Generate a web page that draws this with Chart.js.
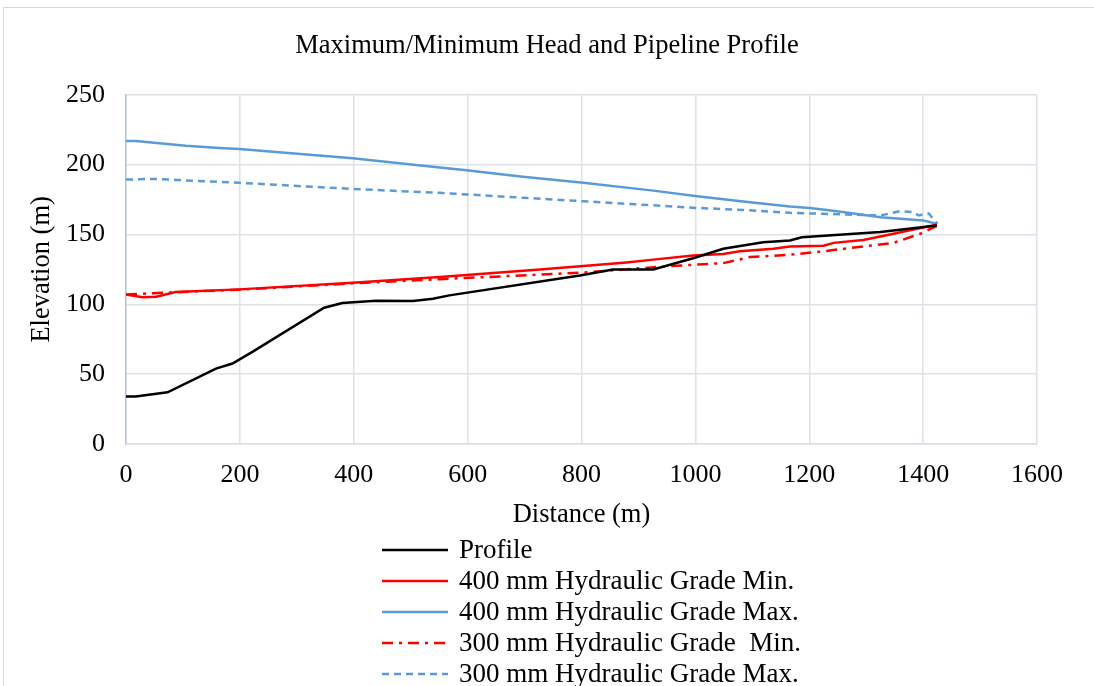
<!DOCTYPE html>
<html>
<head>
<meta charset="utf-8">
<script src="https://cdn.jsdelivr.net/npm/chart.js@4/dist/chart.umd.min.js"></script>
<style>
  html, body { margin:0; padding:0; background:#fff; }
  #wrap { position:relative; width:1094px; height:686px; overflow:hidden; }
  #frame { position:absolute; left:3px; top:7px; width:1200px; height:800px; border:1px solid #d9d9d9; }
  canvas { position:absolute; left:0; top:0; }
</style>
</head>
<body>
<div id="wrap">
  <div id="frame"></div>
  <canvas id="chart" width="1094" height="686"></canvas>
</div>
<script>
// Pipeline profile and hydraulic grade lines (distance m -> elevation m)
const profileDist = [0, 17, 73, 158, 187, 222, 348, 380, 439, 504, 539, 568, 797, 855, 926, 996, 1049, 1119, 1166, 1187, 1325, 1424];
const profileElev = [34, 34, 37, 54, 57.6, 66, 97.6, 101, 102.6, 102.4, 104, 106.4, 120.7, 125, 125, 133, 139.8, 144.5, 145.7, 148, 151.7, 156.4];

const min400Dist = [0, 29, 53, 87, 199, 398, 551, 727, 803, 879, 926, 996, 1049, 1078, 1137, 1166, 1225, 1243, 1295, 1348, 1383, 1424];
const min400Elev = [107, 105, 105.5, 108.8, 110.7, 115.5, 119.5, 125, 127.4, 130, 132, 135, 136, 138, 139.8, 141.4, 142, 144, 146, 150.5, 153.6, 157];

const max400Dist = [0, 17, 105, 164, 199, 398, 551, 598, 697, 803, 926, 1003, 1084, 1166, 1201, 1249, 1325, 1401, 1424];
const max400Elev = [217, 217, 213.6, 212, 211.2, 204.5, 198, 196, 191.4, 187, 181.4, 177.4, 173.6, 170, 169, 166.7, 162.4, 160, 157.6];

const min300Dist = [0, 47, 200, 398, 551, 797, 855, 955, 996, 1049, 1096, 1166, 1225, 1295, 1348, 1395, 1418, 1424];
const min300Elev = [107, 108, 110.5, 115, 118, 122.6, 124.3, 127.4, 128.3, 129.5, 133.8, 135.5, 138, 141.4, 144, 150.5, 155, 156];

const max300Dist = [0, 47, 199, 398, 551, 803, 1003, 1084, 1166, 1266, 1325, 1359, 1383, 1392, 1404, 1410, 1425];
const max300Elev = [189.3, 189.8, 187, 182.6, 179.8, 173.8, 169, 167.6, 165.5, 164.3, 163.6, 166.6, 166, 163.6, 164.8, 165, 157.6];

const seriesLabels = [
  'Profile',
  '400 mm Hydraulic Grade Min.',
  '400 mm Hydraulic Grade Max.',
  '300 mm Hydraulic Grade  Min.',
  '300 mm Hydraulic Grade Max.'
];

const FONT = 'Liberation Serif, Times New Roman, serif';
const toPoints = (xs, ys) => xs.map((x, i) => ({ x, y: ys[i] }));

function line(label, xs, ys, color, dash) {
  return {
    label,
    data: toPoints(xs, ys),
    borderColor: color,
    backgroundColor: color,
    borderWidth: 2.5,
    borderDash: dash,
    pointRadius: 0,
    tension: 0,
    fill: false
  };
}

// legend drawn one item per row under the axis title
const stackedLegend = {
  id: 'stackedLegend',
  afterDraw(chart) {
    const ctx = chart.ctx;
    ctx.save();
    ctx.font = '27px ' + FONT;
    ctx.textBaseline = 'middle';
    ctx.fillStyle = '#000';
    chart.data.datasets.forEach((ds, i) => {
      const y = 550 + i * 31;
      ctx.beginPath();
      ctx.setLineDash(ds.borderDash || []);
      ctx.strokeStyle = ds.borderColor;
      ctx.lineWidth = ds.borderWidth;
      ctx.moveTo(382, y);
      ctx.lineTo(448, y);
      ctx.stroke();
      ctx.setLineDash([]);
      ctx.fillText(ds.label, 459, y + 1);
    });
    ctx.restore();
  }
};

new Chart(document.getElementById('chart'), {
  type: 'line',
  data: {
    datasets: [
      line(seriesLabels[0], profileDist, profileElev, '#000000', []),
      line(seriesLabels[1], min400Dist, min400Elev, '#ff0000', []),
      line(seriesLabels[2], max400Dist, max400Elev, '#5b9bd5', []),
      line(seriesLabels[3], min300Dist, min300Elev, '#ff0000', [11, 6, 3, 6]),
      line(seriesLabels[4], max300Dist, max300Elev, '#5b9bd5', [7, 5])
    ]
  },
  options: {
    responsive: false,
    animation: false,
    layout: { padding: { left: 0, right: 0, top: 0, bottom: 152 } },
    plugins: {
      legend: { display: false },
      tooltip: { enabled: false },
      title: {
        display: true,
        text: 'Maximum/Minimum Head and Pipeline Profile',
        color: '#000',
        font: { family: FONT, size: 26.5, weight: 'normal' },
        padding: { top: 30, bottom: 33 }
      }
    },
    scales: {
      x: {
        type: 'linear',
        min: 0, max: 1600,
        afterFit: s => { s.height = 90; },
        ticks: { stepSize: 200, color: '#000', padding: 16, font: { family: FONT, size: 26 }, callback: v => v },
        grid: { color: '#dde1e8', lineWidth: 1.5, drawTicks: false },
        border: { color: '#d9dde4', width: 1.5 },
        title: {
          display: true, text: 'Distance (m)', color: '#000',
          font: { family: FONT, size: 26.5 }, padding: { top: 0, bottom: 3 }
        }
      },
      y: {
        min: 0, max: 250,
        afterFit: s => { s.width = 126; },
        ticks: { stepSize: 50, color: '#000', padding: 21, font: { family: FONT, size: 26 } },
        grid: { color: '#dde1e8', lineWidth: 1.5, drawTicks: false },
        border: { color: '#b4c3d8', width: 1.5 },
        title: {
          display: true, text: 'Elevation (m)', color: '#000',
          font: { family: FONT, size: 26.5 }, padding: { top: 26, bottom: 0 }
        }
      },
      // empty right-hand axis, only reserves the margin right of the plot
      yRight: {
        position: 'right',
        min: 0, max: 250,
        afterFit: s => { s.width = 57; },
        ticks: { display: false },
        grid: { display: false, drawTicks: false },
        border: { display: false }
      }
    }
  },
  plugins: [stackedLegend]
});
</script>
</body>
</html>
